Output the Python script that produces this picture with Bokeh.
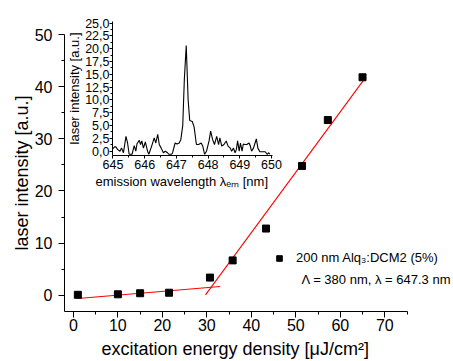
from bokeh.plotting import figure
from bokeh.layouts import column
from bokeh.models import (Range1d, FixedTicker, CustomJSTickFormatter, Legend,
                          LegendItem, Label, Title)
from bokeh.embed import file_html
from bokeh.resources import INLINE

# ---- main data ----
fluence = [1.0, 10.0, 15.0, 21.5, 30.7, 35.8, 43.3, 51.4, 57.2, 65.0]
intensity = [0.1, 0.2, 0.4, 0.5, 3.4, 6.7, 12.8, 24.8, 33.6, 41.8]
fit_low_x = [1.0, 33.0]
fit_low_y = [-0.6, 1.7]
fit_high_x = [29.7, 65.2]
fit_high_y = [0.1, 41.2]
main_xticks = [0, 10, 20, 30, 40, 50, 60, 70]
main_yticks = [0, 10, 20, 30, 40, 50]

# ---- inset spectrum ----
wavelength = [645.00, 645.05, 645.09, 645.15, 645.22, 645.27, 645.33, 645.41, 645.46,
              645.51, 645.60, 645.67, 645.72, 645.76, 645.83, 645.87, 645.91, 645.96,
              646.02, 646.09, 646.13, 646.22, 646.30, 646.35, 646.41, 646.46, 646.52,
              646.59, 646.65, 646.72, 646.76, 646.85, 646.88, 646.96, 647.02, 647.09,
              647.14, 647.20, 647.25, 647.31, 647.37, 647.42, 647.50, 647.56, 647.63,
              647.70, 647.78, 647.83, 647.89, 647.95, 648.03, 648.08, 648.14, 648.20,
              648.27, 648.33, 648.37, 648.43, 648.50, 648.57, 648.63, 648.70, 648.74,
              648.80, 648.85, 648.89, 648.93, 648.98, 649.02, 649.07, 649.11, 649.16,
              649.22, 649.29, 649.33, 649.37, 649.43, 649.48, 649.52, 649.57, 649.63,
              649.72, 649.80, 649.86, 649.91, 649.95]
spectrum = [0.5, 0.85, 0.85, 0.3, 0.0, 0.65, -0.3, 2.9, 1.6,
            -0.6, -0.6, 1.1, 0.0, 1.5, 2.1, 1.3, 2.0, 0.6,
            1.8, 0.0, -0.6, 1.0, 2.6, 1.6, 3.3, 1.3, 0.6,
            -0.3, 0.0, -0.3, -0.6, -0.6, -0.3, 1.6, 1.4, 1.6,
            2.3, 5.0, 14.0, 20.6, 10.0, 6.0, 5.8, 4.7, 1.3,
            1.3, 1.6, 1.0, -0.6, 0.0, 2.0, 3.9, 2.3, 1.3,
            2.9, 1.3, 2.6, 1.0, 1.3, 2.0, 1.0, 0.6, 0.0,
            0.6, -0.3, 0.3, 2.0, 0.0, 1.6, 0.0, 1.4, 1.3,
            1.3, 1.6, 1.0, 0.0, 0.6, 1.6, 2.4, 0.6, -0.1,
            -0.1, -0.1, -0.6, -0.3, -0.6]
inset_xticks = [645, 646, 647, 648, 649, 650]
inset_xminor = [645.5, 646.5, 647.5, 648.5, 649.5]
inset_yticks = [0, 2.5, 5, 7.5, 10, 12.5, 15, 17.5, 20, 22.5, 25]
inset_yminor = [1.25, 3.75, 6.25, 8.75, 11.25, 13.75, 16.25, 18.75, 21.25, 23.75]

FONT = "Liberation Sans"
LB = 64   # left border shared by both plots (column aligns frames)
RB = 14   # right border shared by both plots

# ---------------- inset figure ----------------
ins = figure(frame_width=160, frame_height=134, output_backend="svg",
             toolbar_location=None,
             x_range=Range1d(644.985, 650.03), y_range=Range1d(-0.84, 25.31),
             min_border_left=LB, min_border_right=RB, min_border_top=12,
             min_border_bottom=40)
ins.line(wavelength, spectrum, line_color="black", line_width=1.1)
ins.xgrid.visible = False
ins.ygrid.visible = False
ins.outline_line_color = None
ins.background_fill_alpha = 0
ins.border_fill_alpha = 0
ins.xaxis.ticker = FixedTicker(ticks=inset_xticks, minor_ticks=inset_xminor)
ins.yaxis.ticker = FixedTicker(ticks=inset_yticks, minor_ticks=inset_yminor)
ins.yaxis.formatter = CustomJSTickFormatter(
    code="return tick.toFixed(1).replace('.', ',');")
for ax in (ins.xaxis[0], ins.yaxis[0]):
    ax.major_tick_in = 0
    ax.major_tick_out = 3
    ax.minor_tick_in = 0
    ax.minor_tick_out = 2
    ax.axis_line_color = "black"
    ax.major_tick_line_color = "black"
    ax.minor_tick_line_color = "black"
    ax.major_label_text_font = FONT
    ax.major_label_text_font_size = "12.5px"
    ax.major_label_text_color = "black"
    ax.axis_label_text_font = FONT
    ax.axis_label_text_font_size = "13px"
    ax.axis_label_text_font_style = "normal"
    ax.axis_label_text_color = "black"
ins.xaxis.major_label_standoff = 1
ins.yaxis.major_label_standoff = 0
ins.yaxis.axis_label_standoff = 0
ins.yaxis.axis_label = "laser intensity [a.u.]"
ins.add_layout(Title(text="emission wavelength λₑₘ [nm]", align="left",
                     offset=-17, standoff=0, text_font=FONT,
                     text_font_size="13px", text_font_style="normal",
                     text_color="black"), "below")
INSET_TOP = 9
INSET_H = 12 + 134 + 40
ins.margin = (INSET_TOP, 0, 0, 112 - LB)

# ---------------- main figure ----------------
p = figure(frame_width=387, frame_height=277, output_backend="svg",
           toolbar_location=None,
           x_range=Range1d(-2.0, 85.0), y_range=Range1d(-3.1, 50.0),
           min_border_left=LB, min_border_right=RB, min_border_top=34,
           min_border_bottom=45)
p.xgrid.visible = False
p.ygrid.visible = False
p.outline_line_color = None
p.background_fill_alpha = 0
p.border_fill_alpha = 0

p.line(fit_low_x, fit_low_y, line_color="red", line_width=1.1)
p.line(fit_high_x, fit_high_y, line_color="red", line_width=1.1)
pts = p.scatter(fluence, intensity, marker="square", size=7,
                fill_color="black", line_color="black")

p.xaxis.ticker = FixedTicker(ticks=main_xticks,
                             minor_ticks=[5, 15, 25, 35, 45, 55, 65, 75])
p.yaxis.ticker = FixedTicker(ticks=main_yticks, minor_ticks=[5, 15, 25, 35, 45])
p.xaxis.bounds = (-2.0, 75.2)
for ax in (p.xaxis[0], p.yaxis[0]):
    ax.major_tick_in = 0
    ax.major_tick_out = 6
    ax.minor_tick_in = 0
    ax.minor_tick_out = 3
    ax.axis_line_color = "black"
    ax.major_tick_line_color = "black"
    ax.minor_tick_line_color = "black"
    ax.major_label_text_font = FONT
    ax.major_label_text_font_size = "16px"
    ax.major_label_text_color = "black"
    ax.axis_label_text_font = FONT
    ax.axis_label_text_font_size = "18px"
    ax.axis_label_text_font_style = "normal"
    ax.axis_label_text_color = "black"
p.xaxis.major_label_standoff = 1
p.yaxis.major_label_standoff = 6
p.yaxis.axis_label_standoff = 0
p.yaxis.axis_label = "laser intensity [a.u.]"

# x-axis title placed below, aligned with the drawn axis (not the wider frame)
p.add_layout(Title(text="excitation energy density [μJ/cm²]", align="left",
                   offset=37, standoff=6, text_font=FONT, text_font_size="18px",
                   text_font_style="normal", text_color="black"), "below")

legend = Legend(items=[LegendItem(label="200 nm Alq₃:DCM2 (5%)", renderers=[pts])],
                location=(208, 46), padding=0, margin=0, spacing=0,
                border_line_color=None, background_fill_alpha=0,
                glyph_width=14, glyph_height=14, label_height=14,
                label_standoff=10, label_text_font=FONT,
                label_text_font_size="13px", label_text_color="black")
p.add_layout(legend)
p.add_layout(Label(x=51.3, y=3.1, text="Λ = 380 nm, λ = 647.3 nm",
                   text_font=FONT, text_font_size="13px", text_color="black",
                   text_baseline="middle"))
p.margin = (-(INSET_TOP + INSET_H), 0, 0, 0)

layout = column(ins, p)
open("out.html", "w").write(file_html(layout, INLINE))
